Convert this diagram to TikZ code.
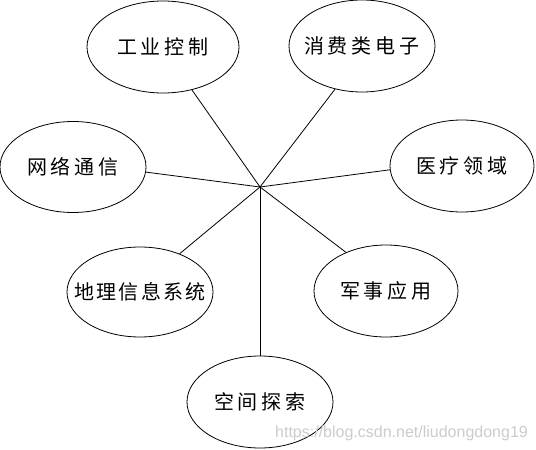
\documentclass[tikz,border=0pt]{standalone}
\usepackage{fontspec}
\newfontfamily\cjk[LetterSpace=20]{Noto Sans CJK SC}
\newfontfamily\cjknarrow[LetterSpace=11]{Noto Sans CJK SC}
\newfontfamily\wm{Liberation Sans}
\usetikzlibrary{shapes.geometric}
\newcommand{\zw}[1]{\makebox[0pt][c]{#1}}
\begin{document}
\begin{tikzpicture}[x=1pt,y=-1pt,
  bubble/.style={draw, ellipse, line width=0.8pt, inner sep=0pt,
    font=\cjk\fontsize{20}{24}\selectfont},
  link/.style={draw, line width=0.8pt}]
\useasboundingbox[fill=white] (0,0) rectangle (536,450);
\coordinate (hub) at (260,187);
\node[bubble, minimum width=152pt, minimum height=92pt] (gy) at (163,47) {\zw{工业控制}};
\node[bubble, minimum width=146pt, minimum height=92pt] (xf) at (362,46) {\zw{消费类电子}};
\node[bubble, minimum width=146pt, minimum height=91pt] (wl) at (73,167) {\zw{网络通信}};
\node[bubble, minimum width=144pt, minimum height=92pt] (yl) at (462,166) {\zw{医疗领域}};
\node[bubble, minimum width=146pt, minimum height=90pt,
  font=\cjknarrow\fontsize{20}{24}\selectfont] (dl) at (140,292) {\zw{地理信息系统}};
\node[bubble, minimum width=144pt, minimum height=92pt] (js) at (386,291) {\zw{军事应用}};
\node[bubble, minimum width=146pt, minimum height=92pt] (kj) at (260,402) {\zw{空间探索}};
\draw[link] (hub) -- (gy.-56);
\draw[link] (hub) -- (xf.-122);
\draw[link] (hub) -- (wl.-4);
\draw[link] (hub) -- (yl.183);
\draw[link] (hub) -- (dl.44);
\draw[link] (hub) -- (js.136);
\draw[link] (hub) -- (kj.north);
\node[anchor=base west, inner sep=0pt, text=gray!40, font=\wm\fontsize{16}{19}\selectfont] (mark) at (275,437) {https://blog.csdn.net/liudongdong19};
\end{tikzpicture}
\end{document}
